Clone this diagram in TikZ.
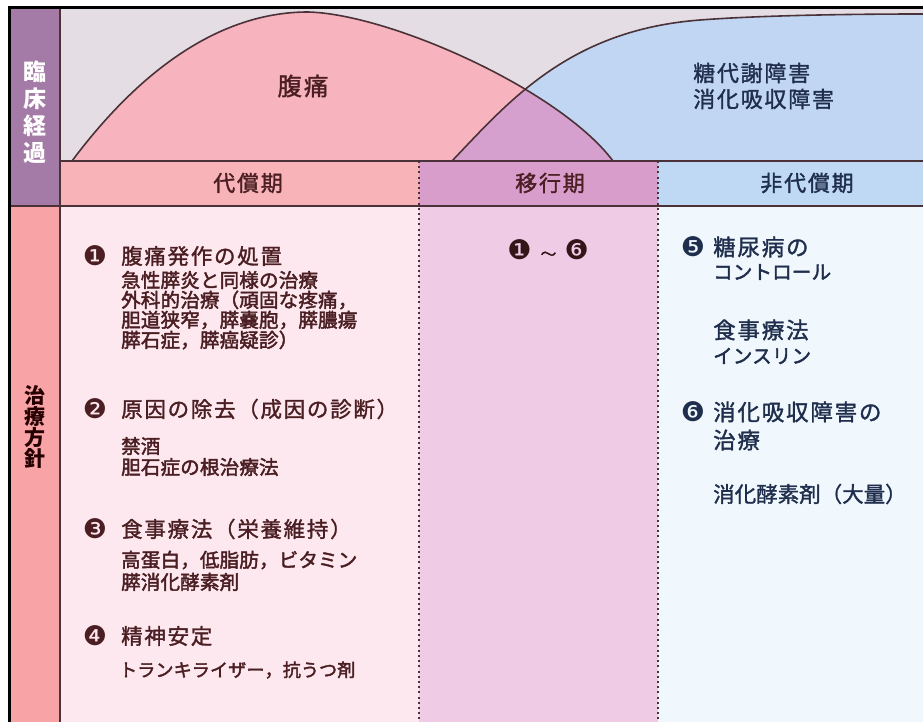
\documentclass[tikz,border=0pt]{standalone}
\usepackage{fontspec}
\newfontfamily\jp[LetterSpace=8,FakeBold=1.4]{Noto Sans CJK JP}
\newfontfamily\jps[LetterSpace=1,FakeBold=2.2]{Noto Sans CJK JP}
\newfontfamily\jpz[LetterSpace=0,FakeBold=1.4]{Noto Sans CJK JP}
\newfontfamily\jpb{Noto Sans CJK JP}
\newfontfamily\dv{DejaVu Sans}
\definecolor{bgtop}{HTML}{E4DDE3}
\definecolor{pinkc}{HTML}{F8B4BE}
\definecolor{bluec}{HTML}{C0D6F2}
\definecolor{overc}{HTML}{D6A0CE}
\definecolor{colA}{HTML}{A47BA6}
\definecolor{colB}{HTML}{F8A3A5}
\definecolor{hdA}{HTML}{F7B3B8}
\definecolor{hdB}{HTML}{D89DCB}
\definecolor{hdC}{HTML}{BFD9F5}
\definecolor{bdA}{HTML}{FCE8EE}
\definecolor{bdB}{HTML}{F0CBE5}
\definecolor{bdC}{HTML}{F1F8FD}
\definecolor{lineC}{HTML}{4A3238}
\definecolor{txtR}{HTML}{4A1E22}
\definecolor{txtB}{HTML}{1F2E4D}
\tikzset{
  txt/.style={inner sep=0pt, anchor=west},
  hd/.style={font=\jp\fontsize{21.5}{24}\selectfont},
  sb/.style={font=\jps\fontsize{19.5}{20}\selectfont},
  sbk/.style={font=\jps\fontsize{18}{20}\selectfont},
  rh/.style={font=\jp\fontsize{22.5}{24}\selectfont},
  num/.style={inner sep=0pt, font=\dv\fontsize{27}{27}\selectfont},
  curve/.style={draw=lineC, line width=1.6pt},
  grid/.style={draw=lineC, line width=1.4pt},
  dotline/.style={draw=lineC, line width=2pt, dash pattern=on 2pt off 3.2pt},
  frame/.style={draw=black, line width=3pt},
}
\begin{document}
\begin{tikzpicture}[x=1pt,y=-1pt]
\useasboundingbox (0,0) rectangle (923,722);
\fill[white] (0,0) rectangle (923,722);
% backgrounds
\fill[bgtop] (60,8) rectangle (923,161);
\fill[colA] (9,8) rectangle (60,206);
\fill[colB] (9,206) rectangle (60,722);
\fill[hdA] (60,161) rectangle (419,206);
\fill[hdB] (419,161) rectangle (658,206);
\fill[hdC] (658,161) rectangle (923,206);
\fill[bdA] (60,206) rectangle (419,722);
\fill[bdB] (419,206) rectangle (658,722);
\fill[bdC] (658,206) rectangle (923,722);
% curves
\fill[pinkc] (72,161) .. controls (140,70) and (220,12) .. (308,12)
  .. controls (390,14) and (560,90) .. (613,161) -- cycle;
\fill[bluec] (452,161) .. controls (510,100) and (570,30) .. (700,20)
  .. controls (760,15.4) and (850,14) .. (923,14) -- (923,161) -- cycle;
\begin{scope}
  \clip (452,161) .. controls (510,100) and (570,30) .. (700,20)
    .. controls (760,15.4) and (850,14) .. (923,14) -- (923,161) -- cycle;
  \fill[overc] (72,161) .. controls (140,70) and (220,12) .. (308,12)
    .. controls (390,14) and (560,90) .. (613,161) -- cycle;
\end{scope}
\draw[curve] (72,161) .. controls (140,70) and (220,12) .. (308,12)
  .. controls (390,14) and (560,90) .. (613,161);
\draw[curve] (452,161) .. controls (510,100) and (570,30) .. (700,20)
  .. controls (760,15.4) and (850,14) .. (923,14);
% grid lines
\draw[grid] (60,8) -- (60,722);
\draw[grid] (60,161) -- (923,161);
\draw[grid] (9,206) -- (923,206);
\draw[dotline] (419,161) -- (419,722);
\draw[dotline] (658,161) -- (658,722);
\draw[frame] (9,722) -- (9,8) -- (923,8);
% side labels
\node[inner sep=0pt, align=center, text=white, font=\jpb\bfseries\fontsize{23}{27}\selectfont] (rinsho) at (35,112) {臨\\床\\経\\過};
\node[inner sep=0pt, align=center, text=black!85!red, font=\jpb\bfseries\fontsize{21}{20.7}\selectfont] (chiryo) at (35,427) {治\\療\\方\\針};
% curve labels
\node[inner sep=0pt, text=txtR, font=\jp\fontsize{24.5}{26}\selectfont] (fukutsu) at (303,86) {腹痛};
\node[txt, text=txtB, font=\jp\fontsize{22}{26}\selectfont] (toudai) at (693,73) {糖代謝障害};
\node[txt, text=txtB, font=\jp\fontsize{22}{26}\selectfont] (shouka) at (693,99) {消化吸収障害};
% header labels
\node[inner sep=0pt, text=txtR, font=\jp\fontsize{22}{26}\selectfont] (daisho) at (248,183) {代償期};
\node[inner sep=0pt, text=txtR, font=\jp\fontsize{22}{26}\selectfont] (ikou) at (550,183) {移行期};
\node[inner sep=0pt, text=txtB, font=\jp\fontsize{22}{26}\selectfont] (hidaisho) at (807,183) {非代償期};
% left column body
\node[num, text=txtR] (n1) at (95,256) {❶};
\node[txt, hd, text=txtR] (h1) at (121,256) {腹痛発作の処置};
\node[txt, sb, text=txtR] (s11) at (121,280) {急性膵炎と同様の治療};
\node[txt, sb, text=txtR] (s12) at (121,300) {外科的治療（頑固な疼痛，};
\node[txt, sb, text=txtR] (s13) at (121,320) {胆道狭窄，膵嚢胞，膵膿瘍};
\node[txt, sb, text=txtR] (s14) at (121,340) {膵石症，膵癌疑診）};
\node[num, text=txtR] (n2) at (95,409) {❷};
\node[txt, hd, text=txtR] (h2) at (121,409) {原因の除去（成因の診断）};
\node[txt, sb, text=txtR] (s21) at (121,446) {禁酒};
\node[txt, sb, text=txtR] (s22) at (121,467) {胆石症の根治療法};
\node[num, text=txtR] (n3) at (95,529) {❸};
\node[txt, hd, text=txtR] (h3) at (121,529) {食事療法（栄養維持）};
\node[txt, sb, text=txtR] (s31) at (121,560) {高蛋白，低脂肪，ビタミン};
\node[txt, sb, text=txtR] (s32) at (121,582) {膵消化酵素剤};
\node[num, text=txtR] (n4) at (95,636) {❹};
\node[txt, hd, text=txtR] (h4) at (121,636) {精神安定};
\node[txt, sbk, text=txtR] (s41) at (119,670) {トランキライザー，抗うつ剤};
% middle column
\node[inner sep=0pt, text=txtR!70!black] (mid) at (548,250) {{\dv\fontsize{27}{27}\selectfont ❶}\hspace{9pt}{\jp\fontsize{16}{20}\selectfont 〜}\hspace{8pt}{\dv\fontsize{27}{27}\selectfont ❻}};
% right column
\node[num, text=txtB] (n5) at (693,247) {❺};
\node[txt, rh, text=txtB] (h5) at (713,247) {糖尿病の};
\node[txt, sb, text=txtB] (r52) at (713,272) {コントロール};
\node[txt, rh, text=txtB] (r53) at (713,330) {食事療法};
\node[txt, sb, text=txtB] (r54) at (713,356) {インスリン};
\node[num, text=txtB] (n6) at (693,412) {❻};
\node[txt, rh, text=txtB] (h6) at (713,412) {消化吸収障害の};
\node[txt, rh, text=txtB] (r62) at (713,440) {治療};
\node[txt, text=txtB, font=\jpz\fontsize{21.5}{24}\selectfont] (r63) at (713,494) {消化酵素剤（大量）};
\end{tikzpicture}
\end{document}
